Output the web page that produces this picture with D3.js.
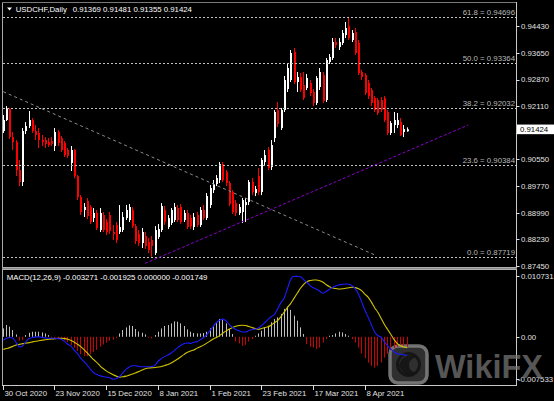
<!DOCTYPE html>
<html><head><meta charset="utf-8">
<script src="https://cdn.jsdelivr.net/npm/d3@7"></script>
<style>html,body{margin:0;padding:0;background:#000;overflow:hidden}svg{display:block}text{font-family:"Liberation Sans",Arial,sans-serif}</style>
</head><body><svg id="c" width="554" height="401"></svg>
<script>
// ---------- DATA ----------
const symbol = "USDCHF,Daily";
const opens = [0.91375,0.91695,0.92015,0.91200,0.91055,0.90241,0.89892,0.91375,0.91520,0.91695,
0.91375,0.91317,0.91113,0.91113,0.91055,0.91084,0.90939,0.91346,0.91171,0.91026,
0.90823,0.90445,0.90823,0.90066,0.89455,0.89078,0.89339,0.89165,0.88845,0.88990,
0.88496,0.88932,0.88729,0.88932,0.88438,0.88642,0.88438,0.88496,0.88845,0.88787,
0.89078,0.88612,0.88380,0.88118,0.88321,0.88147,0.88205,0.87827,0.88292,0.88496,
0.89078,0.88583,0.88700,0.88787,0.89136,0.89165,0.88787,0.88990,0.88845,0.88583,
0.88932,0.88642,0.89078,0.88845,0.89223,0.89659,0.89834,0.89950,0.90415,0.90183,
0.89863,0.89601,0.89281,0.88990,0.89019,0.89223,0.89310,0.89892,0.89572,0.90066,
0.89601,0.90474,0.90823,0.90328,0.91171,0.91986,0.91462,0.91986,0.92597,0.92859,
0.93673,0.92801,0.92946,0.92713,0.92626,0.92771,0.92510,0.92190,0.92655,0.93004,
0.92277,0.93382,0.93499,0.93964,0.93819,0.93935,0.94168,0.94430,0.94022,0.94255,
0.93935,0.93091,0.93004,0.92771,0.92568,0.92335,0.92277,0.92277,0.92335,0.91928,
0.91317,0.91550,0.91550,0.91637,0.91346,0.91369];
const highs = [0.91841,0.92102,0.92044,0.91346,0.91113,0.90532,0.91462,0.91637,0.91957,0.91753,
0.91550,0.91462,0.91259,0.91200,0.91171,0.91200,0.91462,0.91404,0.91230,0.91084,
0.90881,0.90939,0.90852,0.90095,0.89513,0.89281,0.89426,0.89223,0.89136,0.89078,
0.89136,0.89019,0.88816,0.89019,0.88642,0.88729,0.89223,0.89019,0.89223,0.89252,
0.89165,0.88671,0.88496,0.88554,0.88438,0.88263,0.88321,0.88612,0.88671,0.89281,
0.89194,0.88932,0.89136,0.89281,0.89223,0.89252,0.89078,0.89078,0.88932,0.88990,
0.89019,0.89165,0.89223,0.89572,0.89805,0.89950,0.90095,0.90474,0.90474,0.90241,
0.89921,0.89659,0.89368,0.89252,0.89426,0.89426,0.89950,0.90008,0.89775,0.90299,
0.90590,0.90823,0.90910,0.91113,0.91986,0.92219,0.92044,0.92975,0.93324,0.93732,
0.93790,0.93092,0.93062,0.93092,0.93033,0.92859,0.92597,0.92975,0.93208,0.93092,
0.93499,0.93615,0.94080,0.94080,0.94080,0.94313,0.94546,0.94696,0.94313,0.94371,
0.94022,0.93150,0.93062,0.92859,0.92626,0.92393,0.92335,0.92364,0.92393,0.91986,
0.91666,0.91928,0.91899,0.91753,0.91550,0.91481];
const lows = [0.91317,0.91666,0.91142,0.90823,0.90066,0.89775,0.89775,0.91288,0.91462,0.91317,
0.91113,0.90881,0.90939,0.90881,0.90910,0.90939,0.90794,0.90939,0.90765,0.90619,
0.90590,0.90212,0.90008,0.89368,0.88932,0.88874,0.88816,0.88671,0.88729,0.88496,
0.88438,0.88438,0.88350,0.88380,0.88205,0.88118,0.88380,0.88438,0.88787,0.88729,
0.88554,0.88089,0.88030,0.87972,0.87943,0.87827,0.87719,0.87769,0.88234,0.88438,
0.88642,0.88525,0.88642,0.88729,0.88729,0.88671,0.88729,0.88525,0.88525,0.88496,
0.88583,0.88583,0.88787,0.88787,0.89136,0.89572,0.89775,0.89863,0.89892,0.89775,
0.89194,0.88961,0.88903,0.88932,0.88700,0.88729,0.89223,0.89513,0.89484,0.89513,
0.89513,0.90357,0.90241,0.90241,0.91055,0.91492,0.91404,0.91928,0.92510,0.92801,
0.92742,0.92510,0.92510,0.92277,0.92568,0.92393,0.92102,0.92132,0.92568,0.92190,
0.92219,0.93324,0.93441,0.93790,0.93732,0.93877,0.94080,0.94022,0.93964,0.93586,
0.93004,0.92859,0.92422,0.92306,0.92102,0.91928,0.91841,0.91928,0.91637,0.91259,
0.91259,0.91317,0.91462,0.91230,0.91200,0.91355];
const closes = [0.91695,0.92044,0.91200,0.91055,0.90241,0.89892,0.91375,0.91520,0.91695,0.91375,
0.91259,0.91113,0.91055,0.90997,0.90968,0.90997,0.91346,0.91026,0.90823,0.90677,
0.90648,0.90823,0.90066,0.89455,0.89019,0.89165,0.88903,0.88729,0.88990,0.88554,
0.88990,0.88496,0.88438,0.88467,0.88380,0.88205,0.88583,0.88874,0.89078,0.89165,
0.88612,0.88176,0.88118,0.88438,0.88030,0.87914,0.88030,0.88496,0.88525,0.89194,
0.88729,0.88845,0.89078,0.89165,0.88787,0.88729,0.88990,0.88583,0.88612,0.88874,
0.88642,0.89078,0.88845,0.89484,0.89717,0.89834,0.90008,0.90415,0.89950,0.89863,
0.89252,0.89019,0.88990,0.89165,0.89368,0.89310,0.89892,0.89601,0.89688,0.89601,
0.90532,0.90677,0.90299,0.90968,0.91928,0.91579,0.91986,0.92859,0.93208,0.93644,
0.92801,0.92946,0.92568,0.92335,0.92917,0.92481,0.92190,0.92917,0.93092,0.92248,
0.93441,0.93528,0.93964,0.93877,0.93964,0.94226,0.94371,0.94080,0.94226,0.93644,
0.93062,0.92946,0.92481,0.92393,0.92190,0.91986,0.91899,0.91986,0.91695,0.91317,
0.91608,0.91695,0.91695,0.91259,0.91433,0.91424];

const macdMain = [-0.00062,-0.00027,-0.00014,-0.00027,-0.00103,-0.00180,-0.00162,-0.00086,-0.00032,-0.00014,
-0.00002,-0.00002,-0.00009,-0.00020,-0.00027,-0.00027,-0.00027,-0.00032,-0.00045,-0.00086,
-0.00134,-0.00169,-0.00241,-0.00299,-0.00383,-0.00442,-0.00501,-0.00579,-0.00638,-0.00668,
-0.00691,-0.00709,-0.00715,-0.00727,-0.00753,-0.00740,-0.00704,-0.00638,-0.00579,-0.00536,
-0.00513,-0.00513,-0.00526,-0.00531,-0.00531,-0.00531,-0.00526,-0.00501,-0.00429,-0.00383,
-0.00347,-0.00323,-0.00287,-0.00241,-0.00192,-0.00151,-0.00121,-0.00109,-0.00116,-0.00098,
-0.00086,-0.00050,-0.00014,0.00039,0.00110,0.00182,0.00253,0.00294,0.00312,0.00280,
0.00217,0.00164,0.00128,0.00105,0.00084,0.00084,0.00110,0.00128,0.00137,0.00155,
0.00200,0.00253,0.00307,0.00360,0.00396,0.00503,0.00609,0.00690,0.00859,0.01019,
0.01073,0.01070,0.01064,0.01010,0.00966,0.00903,0.00868,0.00841,0.00805,0.00770,
0.00805,0.00841,0.00877,0.00903,0.00921,0.00930,0.00936,0.00930,0.00903,0.00850,
0.00752,0.00609,0.00467,0.00342,0.00209,0.00080,0.00020,-0.00010,-0.00090,-0.00160,
-0.00220,-0.00270,-0.00300,-0.00310,-0.00320,-0.003271];
const macdSignal = [-0.00223,-0.00207,-0.00192,-0.00169,-0.00144,-0.00134,-0.00121,-0.00112,-0.00103,-0.00091,
-0.00080,-0.00071,-0.00062,-0.00053,-0.00045,-0.00037,-0.00032,-0.00029,-0.00027,-0.00032,
-0.00045,-0.00068,-0.00098,-0.00134,-0.00175,-0.00228,-0.00287,-0.00347,-0.00406,-0.00459,
-0.00519,-0.00567,-0.00608,-0.00643,-0.00674,-0.00697,-0.00715,-0.00709,-0.00697,-0.00679,
-0.00661,-0.00638,-0.00615,-0.00590,-0.00567,-0.00554,-0.00549,-0.00544,-0.00536,-0.00526,
-0.00508,-0.00490,-0.00465,-0.00429,-0.00394,-0.00353,-0.00312,-0.00276,-0.00251,-0.00233,
-0.00201,-0.00175,-0.00148,-0.00112,-0.00077,-0.00041,-0.00011,0.00021,0.00066,0.00105,
0.00137,0.00164,0.00185,0.00200,0.00205,0.00200,0.00182,0.00164,0.00146,0.00134,
0.00146,0.00164,0.00176,0.00208,0.00253,0.00289,0.00360,0.00440,0.00520,0.00592,
0.00681,0.00770,0.00859,0.00930,0.00975,0.00996,0.01007,0.01007,0.00993,0.00966,
0.00921,0.00886,0.00864,0.00854,0.00846,0.00850,0.00859,0.00868,0.00877,0.00871,
0.00850,0.00814,0.00752,0.00699,0.00609,0.00511,0.00431,0.00324,0.00217,0.00128,
0.00039,-0.00050,-0.00121,-0.00157,-0.00180,-0.001925];
const macdHist = [0.00148,0.00208,0.00178,0.00119,0.00041,-0.00071,-0.00059,0.00030,0.00071,0.00089,
0.00089,0.00089,0.00077,0.00059,0.00030,-0.00018,-0.00023,-0.00030,-0.00036,-0.00059,
-0.00094,-0.00148,-0.00196,-0.00249,-0.00308,-0.00344,-0.00344,-0.00308,-0.00273,-0.00232,
-0.00178,-0.00137,-0.00107,-0.00071,-0.00053,-0.00023,0.00059,0.00119,0.00166,0.00201,
0.00191,0.00137,0.00094,0.00071,0.00041,-0.00018,-0.00030,0.00030,0.00089,0.00148,
0.00191,0.00208,0.00237,0.00273,0.00267,0.00237,0.00191,0.00130,0.00089,0.00066,
0.00059,0.00059,0.00066,0.00089,0.00148,0.00196,0.00255,0.00315,0.00298,0.00237,
0.00137,0.00048,-0.00084,-0.00119,-0.00160,-0.00143,-0.00084,-0.00041,0.00018,0.00059,
0.00107,0.00166,0.00196,0.00255,0.00315,0.00344,0.00405,0.00494,0.00535,0.00476,
0.00374,0.00285,0.00166,0.00048,-0.00130,-0.00178,-0.00191,-0.00219,-0.00191,-0.00102,
-0.00041,0.00018,0.00030,0.00059,0.00089,0.00077,0.00048,0.00018,-0.00041,-0.00102,
-0.00191,-0.00298,-0.00380,-0.00458,-0.00517,-0.00547,-0.00517,-0.00458,-0.00369,-0.00298,
-0.00237,-0.00201,-0.00178,-0.00166,-0.00155,-0.001749];

const dateTicks = [
  {i:0, label:"30 Oct 2020"},{i:16, label:"23 Nov 2020"},{i:32, label:"15 Dec 2020"},
  {i:48, label:"8 Jan 2021"},{i:64, label:"1 Feb 2021"},{i:80, label:"23 Feb 2021"},
  {i:96, label:"17 Mar 2021"},{i:112, label:"8 Apr 2021"}];
const priceTicks = [0.94430,0.93650,0.92870,0.92110,0.91330,0.90550,0.89770,0.88990,0.88230,0.87450];
const macdTicks = [0.010731, 0.0, -0.007533];
const macdTickLabels = ["0.010731","0.00","-0.007533"];
const fibLevels = ["61.8","50.0","38.2","23.6","0.0"];
const fibPrices = [0.94696,0.93364,0.92032,0.90384,0.87719];
const trendDown = {i0:0, p0:0.92519, i1:115.1, p1:0.87768};
const trendUp = {i0:43.9, p0:0.87527, i1:143.96, p1:0.91550};

// ---------- DRAW ----------
const W = 554, H = 401;
const svg = d3.select("#c");
svg.append("rect").attr("width", W).attr("height", H).attr("fill", "#000");
const defs = svg.append("defs");
defs.append("clipPath").attr("id","clipMain").append("rect").attr("x",3).attr("y",3).attr("width",513).attr("height",264);
defs.append("clipPath").attr("id","clipMacd").append("rect").attr("x",3).attr("y",270).attr("width",513).attr("height",115);

const n = closes.length;
const x = d3.scaleLinear().domain([0, n-1]).range([3.3, 3.3 + (n-1)*3.23]);
const y = d3.scaleLinear().domain([0.87450, 0.94430]).range([266, 26]);
const ym = d3.scaleLinear().domain([-0.007533, 0.010731]).range([379.3, 276.2]);
const px = i => Math.floor(x(i));
const idx = d3.range(n);
const FS = 7.8;
const axisCol = "#e0e0e0";
const last = closes[n-1];

// main panel
const gM = svg.append("g").attr("clip-path","url(#clipMain)");

// candles
const cg = gM.append("g");
cg.selectAll("line.w").data(idx).join("line").attr("class","w")
  .attr("x1", i => px(i)+0.5).attr("x2", i => px(i)+0.5)
  .attr("y1", i => y(highs[i])).attr("y2", i => y(lows[i]))
  .attr("stroke", i => closes[i] >= opens[i] ? "#ffffff" : "#ff0000").attr("stroke-width",1);
cg.selectAll("rect.b").data(idx).join("rect").attr("class","b")
  .attr("x", i => px(i)).attr("width", 2)
  .attr("y", i => y(Math.max(opens[i], closes[i])))
  .attr("height", i => Math.max(1, y(Math.min(opens[i], closes[i])) - y(Math.max(opens[i], closes[i]))))
  .attr("fill", i => closes[i] >= opens[i] ? "#ffffff" : "#ff0000");

// fib lines
const fibIdx = d3.range(fibPrices.length);
gM.selectAll("line.fib").data(fibIdx).join("line").attr("class","fib")
  .attr("x1", 3).attr("x2", 516)
  .attr("y1", k => Math.round(y(fibPrices[k]))+0.5).attr("y2", k => Math.round(y(fibPrices[k]))+0.5)
  .attr("stroke","#c4c4c4").attr("stroke-width",1).attr("stroke-dasharray","2,2");
gM.selectAll("text.fib").data(fibIdx).join("text").attr("class","fib")
  .attr("x", 515).attr("y", k => Math.round(y(fibPrices[k])) - 2)
  .attr("text-anchor","end").attr("font-size",FS).attr("fill","#b8b8b8")
  .text(k => fibLevels[k] + " = " + fibPrices[k].toFixed(5));

// trend lines
gM.append("line").attr("x1", x(trendDown.i0)).attr("y1", y(trendDown.p0))
  .attr("x2", x(trendDown.i1)).attr("y2", y(trendDown.p1))
  .attr("stroke","#8c8c8c").attr("stroke-width",1).attr("stroke-dasharray","3,3");
gM.append("line").attr("x1", x(trendUp.i0)).attr("y1", y(trendUp.p0))
  .attr("x2", x(trendUp.i1)).attr("y2", y(trendUp.p1))
  .attr("stroke","#8a00cc").attr("stroke-width",1).attr("stroke-dasharray","3,2");

// header
svg.append("path").attr("d","M7,7.5 L12,7.5 L9.5,10.5 Z").attr("fill","#ffffff");
svg.append("text").attr("x",15.7).attr("y",12).attr("font-size",FS).attr("fill","#ffffff").text(symbol);
svg.append("text").attr("x",72.7).attr("y",12).attr("font-size",FS).attr("fill","#ffffff")
  .text([opens[n-1], highs[n-1], lows[n-1], closes[n-1]].map(v => v.toFixed(5)).join(" "));

// MACD panel
const gD = svg.append("g").attr("clip-path","url(#clipMacd)");
gD.selectAll("line.h").data(idx).join("line").attr("class","h")
  .attr("x1", i => px(i)+0.5).attr("x2", i => px(i)+0.5)
  .attr("y1", ym(0)).attr("y2", i => ym(macdHist[i]))
  .attr("stroke", i => macdHist[i] >= 0 ? "#c0c0c0" : "#d00000").attr("stroke-width",1);
gD.append("path").datum(idx)
  .attr("d", d3.line().x(i => x(i)).y(i => ym(macdSignal[i])).curve(d3.curveMonotoneX))
  .attr("fill","none").attr("stroke","#d2c400").attr("stroke-width",1.1);
gD.append("path").datum(idx)
  .attr("d", d3.line().x(i => x(i)).y(i => ym(macdMain[i])).curve(d3.curveMonotoneX))
  .attr("fill","none").attr("stroke","#1c1cff").attr("stroke-width",1.1);
svg.append("text").attr("x",6.7).attr("y",279.5).attr("font-size",FS).attr("fill","#ffffff")
  .text("MACD(12,26,9) " + [macdMain[n-1].toFixed(6), macdSignal[n-1].toFixed(6), (0).toFixed(6), macdHist[n-1].toFixed(6)].join(" "));

// frame
svg.append("line").attr("x1",2.5).attr("x2",2.5).attr("y1",2).attr("y2",386).attr("stroke","#a8a8a8");
svg.append("line").attr("x1",2).attr("x2",517).attr("y1",2.5).attr("y2",2.5).attr("stroke","#7a7a7a");
svg.append("line").attr("x1",516.5).attr("x2",516.5).attr("y1",2).attr("y2",386).attr("stroke","#c8c8c8");
svg.append("line").attr("x1",2).attr("x2",517).attr("y1",385.5).attr("y2",385.5).attr("stroke","#c8c8c8");
svg.append("rect").attr("x",2).attr("y",267).attr("width",515).attr("height",3).attr("fill","#b0b0b0");
svg.append("line").attr("x1",2).attr("x2",517).attr("y1",268.5).attr("y2",268.5).attr("stroke","#8a8a8a");

// price axis (the label under the current-price box stays hidden by it)
const pa = svg.append("g");
pa.selectAll("line").data(priceTicks).join("line")
  .attr("x1",516).attr("x2",519.5).attr("y1", d => Math.round(y(d))+0.5).attr("y2", d => Math.round(y(d))+0.5)
  .attr("stroke",axisCol);
pa.selectAll("text").data(priceTicks.filter(d => Math.abs(y(d) - y(last)) > 8)).join("text")
  .attr("x",521).attr("y", d => y(d)+2.8).attr("font-size",FS).attr("fill",axisCol)
  .text(d => d.toFixed(5));
// current price box
svg.append("rect").attr("x",517).attr("y", y(last)-4.8).attr("width",37).attr("height",9.6).attr("fill","#ffffff");
svg.append("text").attr("x",520).attr("y", y(last)+2.8).attr("font-size",FS).attr("fill","#000000").text(last.toFixed(5));

// macd axis
const ma = svg.append("g");
ma.selectAll("line").data(macdTicks).join("line")
  .attr("x1",516).attr("x2",519.5).attr("y1", d => Math.round(ym(d))+0.5).attr("y2", d => Math.round(ym(d))+0.5)
  .attr("stroke",axisCol);
ma.selectAll("text").data(macdTicks).join("text")
  .attr("x", (d,k) => macdTickLabels[k].startsWith("-") ? 518 : 521)
  .attr("y", d => ym(d)+2.8).attr("font-size",FS).attr("fill",axisCol)
  .text((d,k) => macdTickLabels[k]);

// date axis
const da = svg.append("g");
da.selectAll("line").data(dateTicks).join("line")
  .attr("x1", d => px(d.i)+0.5).attr("x2", d => px(d.i)+0.5).attr("y1",385).attr("y2",390)
  .attr("stroke",axisCol);
da.selectAll("text").data(dateTicks).join("text")
  .attr("x", d => px(d.i)+1.5).attr("y",395.5).attr("font-size",FS).attr("fill",axisCol)
  .text(d => d.label);

// watermark (drawn beneath the axis label text)
const wm = svg.insert("g", "g");
wm.append("rect").attr("x",390).attr("y",346).attr("width",37).attr("height",37).attr("rx",8)
  .attr("fill","rgba(60,60,60,0.78)").attr("stroke","rgba(125,125,125,0.9)").attr("stroke-width",3.5);
wm.append("circle").attr("cx",408.5).attr("cy",364.5).attr("r",11)
  .attr("fill","none").attr("stroke","rgba(20,20,20,0.9)").attr("stroke-width",3);
wm.append("path").attr("d","M399,366 C401,356 410,353 417,357 C412,358 409,361 409,365 C409,370 413,373 418,372 C414,377 404,377 399,366 Z")
  .attr("fill","rgba(20,20,20,0.9)");
svg.append("text").attr("x",435).attr("y",378).attr("font-size",33).attr("font-weight","bold")
  .attr("textLength",108).attr("lengthAdjust","spacingAndGlyphs")
  .attr("fill","rgba(120,120,120,0.72)").text("WikiFX");
</script></body></html>
